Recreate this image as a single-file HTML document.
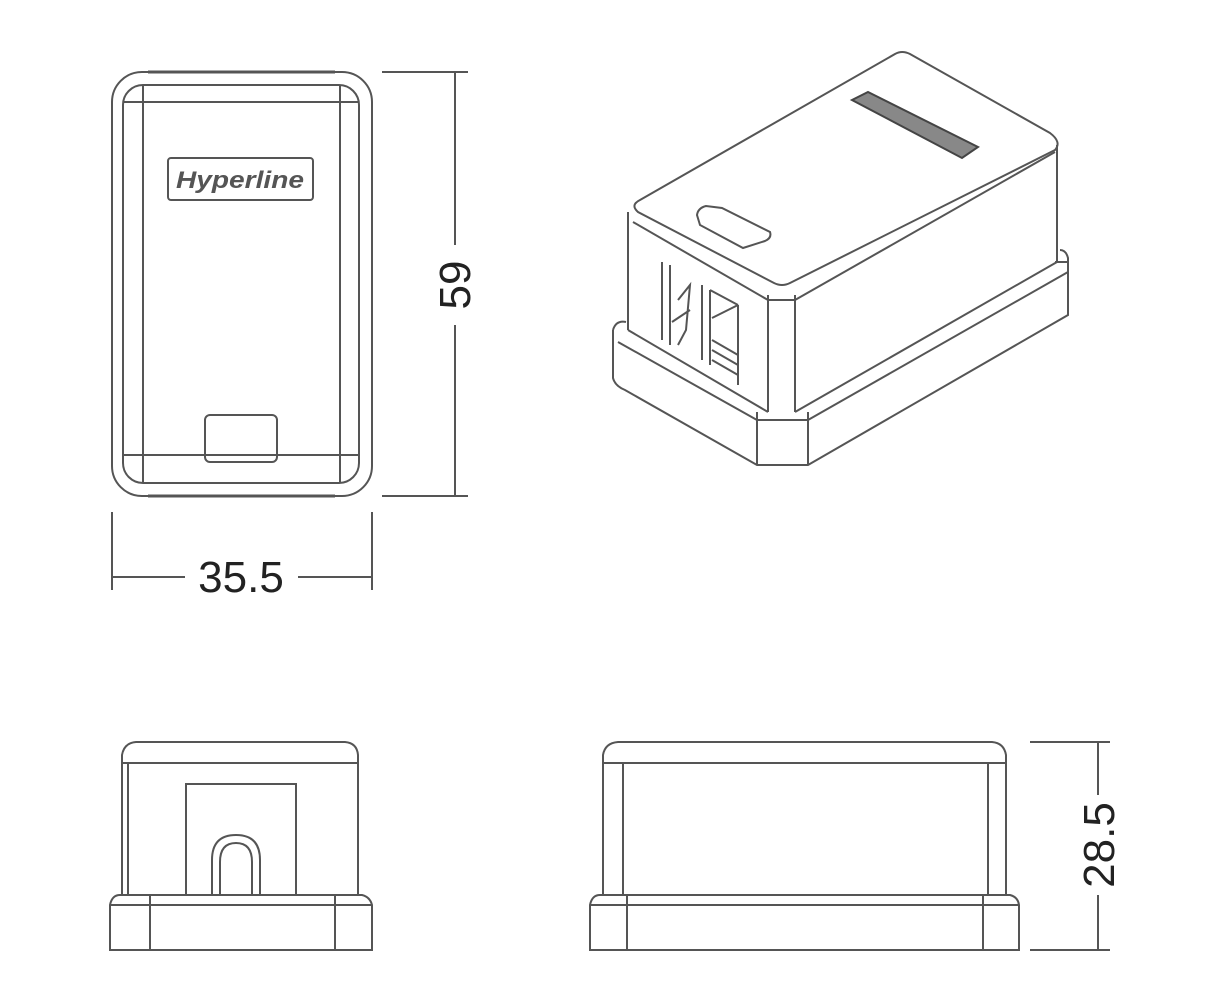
<!DOCTYPE html>
<html><head><meta charset="utf-8"><style>
html,body{margin:0;padding:0;background:#fff;}
svg{display:block;}
text{font-family:"Liberation Sans",sans-serif;fill:#222;}
</style></head><body>
<svg width="1223" height="1000" viewBox="0 0 1223 1000" xmlns="http://www.w3.org/2000/svg">
<g fill="none" stroke="#555" stroke-width="2">
<!-- Front view -->
<rect x="112" y="72" width="260" height="424" rx="30"/>
<rect x="123" y="85" width="236" height="398" rx="20"/>
<line x1="123" y1="102" x2="359" y2="102"/>
<line x1="123" y1="455" x2="359" y2="455"/>
<line x1="143" y1="85" x2="143" y2="483"/>
<line x1="340" y1="85" x2="340" y2="483"/>
<line x1="148" y1="72" x2="335" y2="72" stroke-width="3"/>
<line x1="148" y1="496" x2="335" y2="496" stroke-width="3"/>
<rect x="168" y="158" width="145" height="42" rx="3"/>
<rect x="205" y="415" width="72" height="47" rx="5"/>
<!-- dim 59 -->
<line x1="382" y1="72" x2="468" y2="72"/>
<line x1="382" y1="496" x2="468" y2="496"/>
<line x1="455" y1="72" x2="455" y2="245"/>
<line x1="455" y1="325" x2="455" y2="496"/>
<!-- dim 35.5 -->
<line x1="112" y1="512" x2="112" y2="590"/>
<line x1="372" y1="512" x2="372" y2="590"/>
<line x1="112" y1="577" x2="185" y2="577"/>
<line x1="298" y1="577" x2="372" y2="577"/>
<!-- Iso view -->
<path d="M640,200 L895,54 Q902,50 910,54 L1050,133 Q1062,142 1055,150 L790,283 Q782,287 774,283 L638,212 Q630,205 640,200 Z"/>
<line x1="628" y1="212" x2="628" y2="330"/>
<line x1="633" y1="222" x2="768" y2="300"/>
<line x1="768" y1="300" x2="795" y2="300"/>
<line x1="768" y1="295" x2="768" y2="412"/>
<line x1="795" y1="295" x2="795" y2="412"/>
<line x1="795" y1="300" x2="1055" y2="152"/>
<line x1="1057" y1="145" x2="1057" y2="262"/>
<line x1="628" y1="330" x2="768" y2="412"/>
<line x1="795" y1="412" x2="1057" y2="262"/>
<!-- base iso -->
<path d="M613,330 L613,378 Q615,386 625,390 L757,465 L808,465 L1068,315 L1068,258 Q1066,250 1060,250"/>
<path d="M613,330 Q616,320 626,322"/>
<line x1="618" y1="342" x2="757" y2="420"/>
<line x1="757" y1="412" x2="757" y2="465"/>
<line x1="808" y1="412" x2="808" y2="465"/>
<line x1="757" y1="420" x2="808" y2="420"/>
<line x1="808" y1="420" x2="1068" y2="272"/>
<line x1="1055" y1="262" x2="1068" y2="262"/>
<!-- port -->
<path d="M662,262 L662,340 M670,265 L670,345 M702,285 L702,360 M710,290 L710,365 M738,305 L738,385 M710,290 L738,305"/>
<path d="M678,300 L690,285 L686,330 L678,345 M690,310 L672,322"/>
<path d="M712,340 L738,355 M712,350 L738,365 M712,360 L738,375 M712,318 L738,305"/>
<!-- notch top -->
<path d="M697,215 Q698,208 706,206 L722,208 L770,232 Q772,238 765,241 L743,248 L700,225 Z"/>
<!-- logo iso -->
<path d="M852,100 L868,92 L978,147 L962,158 Z" fill="#888" stroke="#444"/>
<!-- Bottom left view -->
<path d="M122,763 L122,755 Q124,743 136,742 L345,742 Q357,743 358,755 L358,763 Z"/>
<line x1="122" y1="763" x2="122" y2="895"/>
<line x1="358" y1="763" x2="358" y2="895"/>
<line x1="128" y1="763" x2="128" y2="895"/>
<path d="M186,895 L186,784 L296,784 L296,895"/>
<path d="M212,895 L212,860 Q212,835 236,835 Q260,835 260,860 L260,895"/>
<path d="M220,895 L220,862 Q220,843 236,843 Q252,843 252,862 L252,895"/>
<path d="M110,950 L110,905 Q112,895 120,895 L362,895 Q370,897 372,905 L372,950 Z"/>
<line x1="110" y1="905" x2="372" y2="905"/>
<line x1="150" y1="895" x2="150" y2="950"/>
<line x1="335" y1="895" x2="335" y2="950"/>
<!-- Bottom right view -->
<path d="M603,763 L603,755 Q605,743 618,742 L992,742 Q1004,743 1006,755 L1006,763 Z"/>
<line x1="603" y1="763" x2="603" y2="895"/>
<line x1="1006" y1="763" x2="1006" y2="895"/>
<line x1="623" y1="763" x2="623" y2="895"/>
<line x1="988" y1="763" x2="988" y2="895"/>
<path d="M590,950 L590,905 Q592,895 600,895 L1010,895 Q1018,897 1019,905 L1019,950 Z"/>
<line x1="590" y1="905" x2="1019" y2="905"/>
<line x1="627" y1="895" x2="627" y2="950"/>
<line x1="983" y1="895" x2="983" y2="950"/>
<!-- dim 28.5 -->
<line x1="1030" y1="742" x2="1110" y2="742"/>
<line x1="1030" y1="950" x2="1110" y2="950"/>
<line x1="1098" y1="742" x2="1098" y2="795"/>
<line x1="1098" y1="895" x2="1098" y2="950"/>
</g>
<text x="240" y="188" font-size="24" font-weight="bold" font-style="italic" text-anchor="middle" textLength="128" lengthAdjust="spacingAndGlyphs" style="fill:#555">Hyperline</text>
<text x="241" y="592" font-size="44" text-anchor="middle">35.5</text>
<text transform="translate(470,285) rotate(-90)" font-size="44" text-anchor="middle">59</text>
<text transform="translate(1114,845) rotate(-90)" font-size="44" text-anchor="middle">28.5</text>
</svg>
</body></html>
